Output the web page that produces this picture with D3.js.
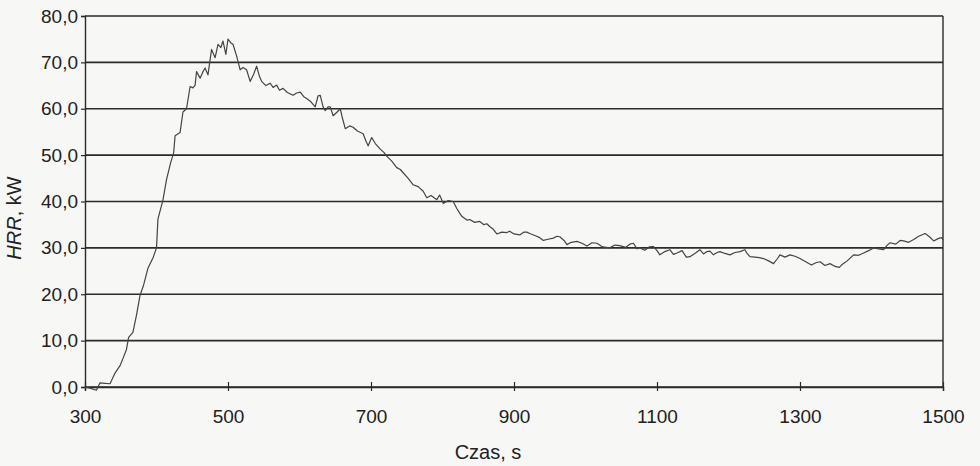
<!DOCTYPE html>
<html>
<head>
<meta charset="utf-8">
<script src="https://cdn.jsdelivr.net/npm/d3@7"></script>
<style>
  body { margin: 0; background: #f7f7f5; }
  svg { display: block; font-family: "Liberation Sans", Arial, sans-serif; }
</style>
</head>
<body>
<svg id="chart" width="980" height="466"></svg>
<script>
// time, s
const czas = [
  300, 308, 316, 321, 328, 335, 342, 349, 354, 358, 361, 367, 372, 377, 382, 388, 395, 400,
  402, 409, 414, 420, 424, 426, 433, 437, 442, 447, 451, 454, 456, 461, 465, 468, 472, 477,
  482, 486, 490, 493, 497, 500, 504, 507, 512, 517, 521, 526, 531, 536, 540, 544, 547, 553,
  559, 563, 568, 572, 577, 583, 591, 596, 601, 606, 610, 616, 622, 626, 629, 633, 636, 640,
  643, 647, 652, 657, 660, 664, 670, 675, 681, 689, 693, 696, 701, 706, 713, 718, 722, 729,
  736, 741, 745, 752, 759, 766, 773, 778, 784, 792, 796, 801, 808, 815, 820, 824, 827, 834,
  838, 845, 852, 858, 862, 866, 871, 876, 883, 890, 894, 900, 908, 914, 918, 922, 930, 936,
  941, 946, 955, 960, 964, 970, 974, 980, 988, 995, 1002, 1009, 1016, 1024, 1034, 1041, 1048,
  1056, 1062, 1067, 1072, 1076, 1083, 1089, 1095, 1100, 1104, 1111, 1118, 1123, 1128, 1135,
  1141, 1146, 1153, 1160, 1165, 1170, 1174, 1179, 1184, 1188, 1195, 1202, 1209, 1216, 1223,
  1226, 1230, 1237, 1243, 1249, 1256, 1263, 1268, 1272, 1279, 1286, 1293, 1300, 1308, 1316,
  1322, 1328, 1335, 1342, 1349, 1355, 1358, 1366, 1375, 1382, 1389, 1396, 1403, 1410, 1417,
  1422, 1426, 1434, 1440, 1445, 1452, 1459, 1466, 1475, 1481, 1487, 1493, 1498, 1500
];

// heat release rate, kW
const hrr = [
  0.0, -0.3, -0.7, 0.9, 0.8, 0.7, 3.0, 4.6, 6.5, 8.1, 10.7, 11.8, 15.5, 19.8, 22.0, 25.6, 27.8, 30.0,
  36.2, 40.3, 44.7, 48.5, 50.5, 54.2, 54.9, 59.3, 60.0, 64.8, 64.5, 65.1, 68.0, 66.6, 68.0, 68.8, 67.3, 72.8,
  71.0, 73.9, 73.2, 74.6, 71.7, 75.0, 74.2, 73.9, 71.4, 68.4, 68.9, 68.4, 65.9, 67.5, 69.2, 67.0, 65.9, 65.0,
  65.5, 64.6, 65.1, 64.0, 64.4, 63.5, 62.9, 63.4, 63.6, 62.6, 62.2, 61.5, 60.4, 62.8, 62.9, 60.4, 59.6, 60.4,
  60.4, 58.5, 59.2, 60.0, 58.0, 55.7, 56.3, 56.0, 55.2, 54.6, 53.0, 52.0, 53.8, 52.5, 51.3, 50.6, 49.8, 48.7,
  47.3, 46.9, 46.2, 45.0, 43.6, 43.2, 42.2, 40.8, 41.3, 40.4, 41.4, 39.6, 40.2, 40.0, 38.5, 37.5, 36.8, 36.0,
  36.1, 35.5, 35.7, 35.0, 35.2, 34.6, 34.0, 33.0, 33.4, 33.3, 33.6, 33.0, 32.8, 33.4, 33.4, 33.1, 32.6, 32.2,
  31.6, 31.8, 32.1, 32.5, 32.4, 31.6, 30.7, 31.2, 31.4, 31.0, 30.4, 31.1, 31.0, 30.2, 30.0, 30.6, 30.5,
  30.1, 30.8, 31.0, 29.8, 30.0, 29.5, 30.2, 30.3, 29.4, 28.5, 29.2, 29.6, 28.6, 28.9, 29.4,
  28.0, 28.1, 28.8, 29.6, 28.7, 29.2, 29.3, 28.5, 29.0, 29.2, 28.8, 28.5, 29.0, 29.2, 29.6,
  28.8, 28.1, 28.0, 27.9, 27.7, 27.2, 26.6, 27.6, 28.5, 28.0, 28.5, 28.2, 27.7, 27.0, 26.3,
  26.8, 27.0, 26.2, 26.6, 26.0, 25.8, 26.3, 27.2, 28.5, 28.4, 28.9, 29.4, 30.0, 29.8, 29.6,
  30.6, 31.1, 30.8, 31.6, 31.5, 31.2, 31.8, 32.5, 33.1, 32.4, 31.5, 32.0, 32.2, 31.8
];

const xTicks = [300, 500, 700, 900, 1100, 1300, 1500];
const yTicks = [0, 10, 20, 30, 40, 50, 60, 70, 80];

// ----------------------------------------------------

const margin = {top: 16, right: 37, bottom: 79, left: 85};
const width = 980, height = 466;

const svg = d3.select("#chart");

const x = d3.scaleLinear()
  .domain([300, 1500])
  .range([margin.left, width - margin.right]);

const y = d3.scaleLinear()
  .domain([0, 80])
  .range([height - margin.bottom, margin.top]);

const fmt = d => d.toFixed(1).replace(".", ",");

// horizontal grid lines
svg.append("g")
  .selectAll("line")
  .data(yTicks)
  .enter()
  .append("line")
  .attr("x1", margin.left)
  .attr("x2", width - margin.right)
  .attr("y1", d => y(d))
  .attr("y2", d => y(d))
  .attr("stroke", "#2a2a2a")
  .attr("stroke-width", 1.6);

// y axis
const yAxis = svg.append("g")
  .attr("transform", "translate(" + margin.left + ",0)")
  .call(d3.axisLeft(y).tickValues(yTicks).tickFormat(fmt).tickSize(4).tickPadding(3));

// x axis (ticks cross the line)
const xAxis = svg.append("g")
  .attr("transform", "translate(0," + (height - margin.bottom) + ")")
  .call(d3.axisBottom(x).tickValues(xTicks).tickFormat(d3.format("d")).tickSize(4).tickPadding(19));
xAxis.selectAll(".tick line").attr("y1", -5);

[yAxis, xAxis].forEach(a => {
  a.select(".domain").attr("stroke", "#2a2a2a").attr("stroke-width", 1.4);
  a.selectAll(".tick line").attr("stroke", "#2a2a2a").attr("stroke-width", 1.2);
  a.selectAll("text").attr("font-size", 19).attr("fill", "#222")
    .attr("font-family", "Liberation Sans, Arial, sans-serif");
});

// right border
svg.append("line")
  .attr("x1", x(1500)).attr("x2", x(1500))
  .attr("y1", y(80)).attr("y2", y(0))
  .attr("stroke", "#2a2a2a")
  .attr("stroke-width", 1.4);

// HRR curve
const line = d3.line()
  .x((d, i) => x(czas[i]))
  .y(d => y(d));

svg.append("path")
  .datum(hrr)
  .attr("d", line)
  .attr("fill", "none")
  .attr("stroke", "#444")
  .attr("stroke-width", 1.2)
  .attr("stroke-linejoin", "round");

// axis titles
svg.append("text")
  .attr("x", 488)
  .attr("y", 459)
  .attr("text-anchor", "middle")
  .attr("font-size", 20)
  .attr("fill", "#222")
  .text("Czas, s");

const yTitle = svg.append("text")
  .attr("transform", "translate(21,218) rotate(-90)")
  .attr("text-anchor", "middle")
  .attr("font-size", 20)
  .attr("fill", "#222");
yTitle.append("tspan").attr("font-style", "italic").text("HRR");
yTitle.append("tspan").text(", kW");
</script>
</body>
</html>
